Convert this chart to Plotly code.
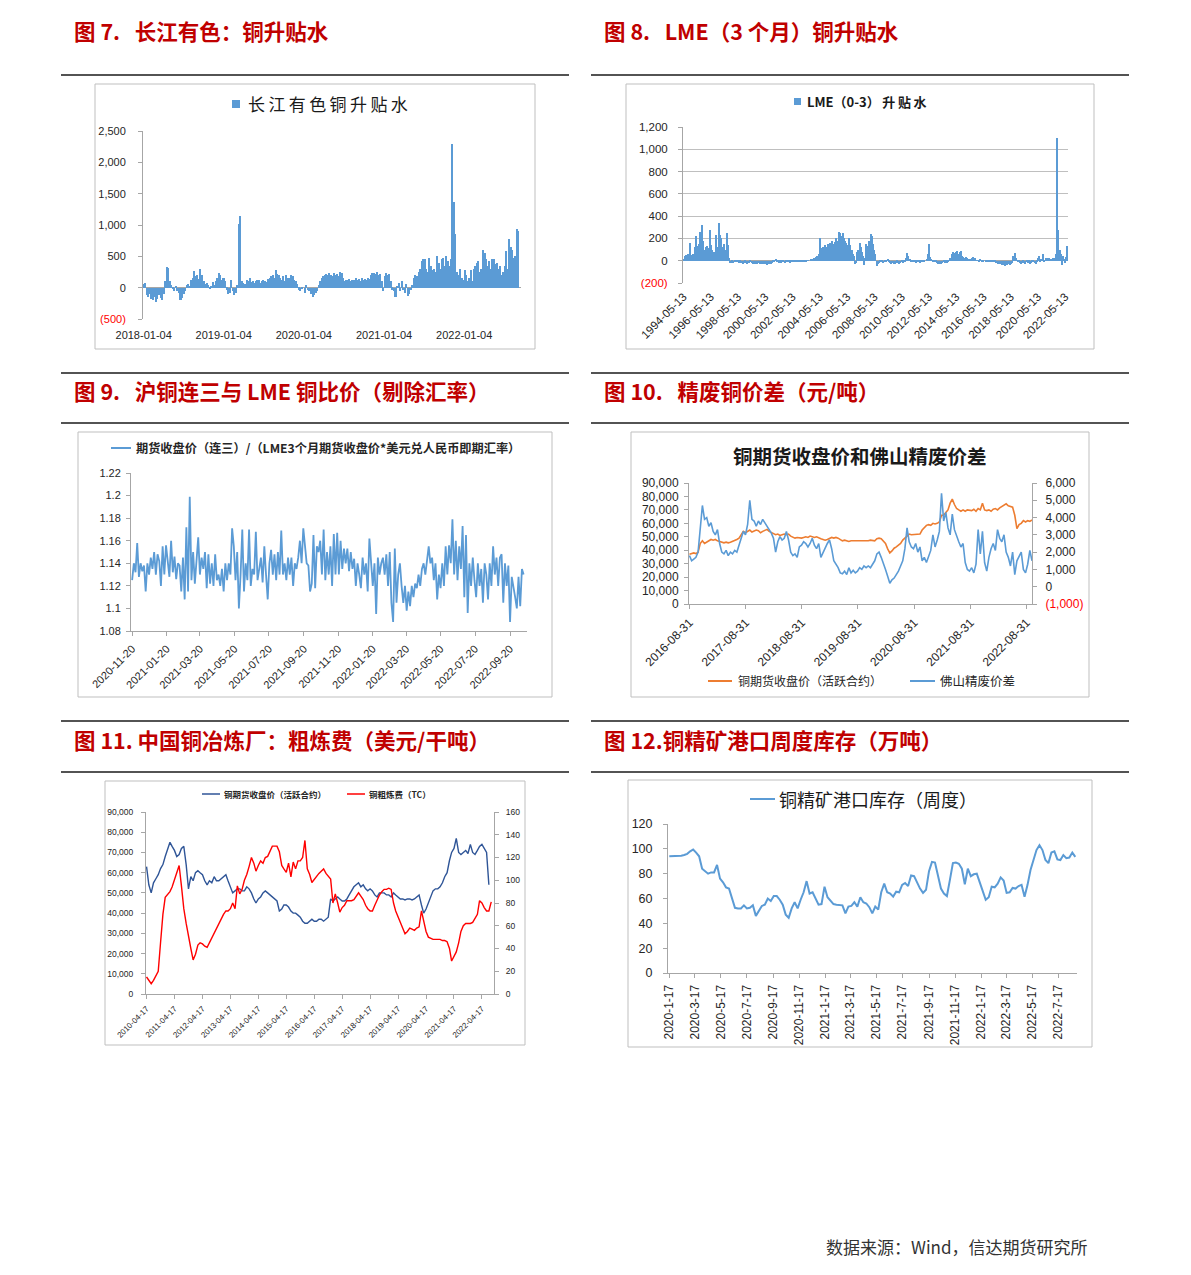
import pandas as pd
import plotly.graph_objects as go

W, H = 1191, 1275
def px(x): return x / W
def py(y): return 1 - y / H

# ---------------- DATA ----------------
# 图7 长江有色铜升贴水 (weekly, from 2018-01-05)
p1_2018 = [60, 80, -120, -150, -100, -180, -200, -150, -230, -180, -120, -160, -200, -100, 100, 330, 310, 100, 40, -20, -50, 30, -60, -80, -190, -160, -100, -60, 50, 60, 20, 120, 150, 260, 180, 200, 140, 290, 200, 100, 60, 80, 50, -20, 30, 90, 40, 100, 150, 230, 200, 120]
p1_2019 = [150, 100, -30, -100, -80, 130, -60, -120, -90, 50, 1020, 1150, 100, 80, 60, 120, 100, 150, 90, 110, 80, 100, 130, 120, 80, 100, 130, 110, 90, 140, 150, 180, 200, 160, 280, 220, 200, 150, 120, 180, 100, 200, 160, 150, 200, 190, 130, 100, 60, -30, -60, -20]
p1_2020 = [0, -80, 50, -40, -60, -100, -150, -120, -80, -50, 50, 100, 150, 180, 200, 220, 200, 240, 210, 180, 230, 200, 220, 190, 250, 240, 150, 100, 130, 120, 140, 110, 130, 120, 150, 130, 140, 110, 150, 120, 140, 130, 160, 140, 200, 240, 230, 220, 250, 200, 220, 100]
p1_2021 = [-50, 180, 240, 200, 220, 100, -30, -50, -150, 30, 80, -60, 100, -40, -80, 60, -130, -100, -40, 50, 150, 200, 180, 250, 300, 430, 450, 460, 300, 250, 480, 350, 280, 300, 250, 500, 400, 300, 450, 480, 350, 500, 420, 350, 450, 2300, 1370, 850, 250, 200, 300, 150]
p1_2022 = [120, 280, 200, 100, 150, 280, 100, 300, 350, 400, 420, 250, 300, 600, 550, 450, 350, 420, 300, 460, 450, 380, 400, 300, 350, 200, 250, 350, 580, 300, 770, 650, 600, 480, 500, 940, 900]
p1_vals = p1_2018 + p1_2019 + p1_2020 + p1_2021 + p1_2022
p1_ticks = ['2018-01-04', '2019-01-04', '2020-01-04', '2021-01-04', '2022-01-04']

# 图8 LME (0-3) 升贴水 (monthly, from 1994-05)
p2_vals = (
    [10, 40, 50, 30, 60, 50, 160, 50, 60, 40, 120, 220]
    + [130, 80, 150, 260, 320, 180, 100, 80, 120, 130, 110, 280]
    + [140, 100, 60, 80, 70, 230, 120, 335, 230, 200, 120, 80]
    + [150, 100, 250, 140, 20, -20, -20, -15, -20, -15, -10, -10]
    + [-15, -20, -15, -20, -25, -20, -15, -20, -25, -20, -20, -15]
    + [-20, -25, -20, -25, -30, -25, -20, -30, -25, -20, -25, -30]
    + [-25, -30, -35, -30, -30, -25, -20, -15, -10, 10, -5, -15]
    + [-20, -15, -20, -15, -10, -20, -15, -10, -15, -10, -20, -15]
    + [-15, -10, -15, -10, -15, -10, -5, -10, -5, -10, -5, 0]
    + [-5, 0, 5, 0, 10, 5, 15, 20, 10, 30, 40, 60]
    + [200, 110, 80, 120, 100, 140, 120, 150, 130, 160, 140, 180]
    + [150, 170, 200, 160, 180, 260, 250, 220, 250, 200, 180, 160]
    + [140, 50, 200, 140, 100, 60, 40, -30, -20, 80, 100, 160]
    + [120, 80, 40, -40, 20, 150, 130, 180, 170, 240, 220, 150]
    + [100, 60, -50, -30, -20, -10, 0, -10, -20, -15, -10, 0]
    + [10, -10, -20, -30, -20, -25, -30, -20, -15, -20, -25, -20]
    + [-15, -20, -10, -5, 20, 70, 40, 10, -5, -10, -15, -10]
    + [-15, -20, -10, -15, -20, -10, -15, -10, -5, 0, 10, 60]
    + [150, 30, 10, 0, -10, -15, -10, -20, -25, -20, -30, -25]
    + [-20, -15, -20, -10, -20, -5, 0, 20, 60, 75, 40, 70]
    + [80, 90, 60, 80, 90, 40, 30, 20, 10, 30, 20, 10]
    + [0, 10, 20, 30, 10, 25, 5, 0, -5, 10, 0, -10]
    + [-5, 0, -10, -5, 0, -10, -15, -10, -5, -10, -15, -20]
    + [-20, -25, -30, -25, -35, -30, -40, -45, -35, -40, -30, -35]
    + [-30, -20, 40, 30, 70, 20, -10, -15, -20, -25, -20, -15]
    + [-20, -25, -15, -20, -10, -25, -20, -15, -10, -20, -30, -10]
    + [20, 40, -10, 10, 60, -5, 0, 20, 10, 25, 20, 15]
    + [10, 20, 25, 20, 60, 1100, 280, 100, 60, -40, 40, 10]
    + [-20, 30, 130]
)
p2_ticks = ['1994-05-13', '1996-05-13', '1998-05-13', '2000-05-13', '2002-05-13', '2004-05-13', '2006-05-13',
            '2008-05-13', '2010-05-13', '2012-05-13', '2014-05-13', '2016-05-13', '2018-05-13', '2020-05-13', '2022-05-13']

# 图9 沪铜连三/LME 比价 (every 3 days from 2020-11-20)
p3_vals = (
    [1.125, 1.14, 1.132, 1.158, 1.128, 1.14, 1.133, 1.138, 1.115, 1.14, 1.13, 1.145, 1.135, 1.15, 1.13, 1.148, 1.142, 1.12, 1.155, 1.13]
    + [1.156, 1.14, 1.128, 1.16, 1.132, 1.146, 1.126, 1.14, 1.138, 1.115, 1.145, 1.108, 1.172, 1.115, 1.199, 1.125, 1.15, 1.122, 1.145, 1.163]
    + [1.13, 1.145, 1.135, 1.15, 1.118, 1.148, 1.122, 1.14, 1.12, 1.148, 1.125, 1.13, 1.12, 1.135, 1.115, 1.14, 1.125, 1.14, 1.13, 1.171]
    + [1.155, 1.125, 1.15, 1.1, 1.13, 1.17, 1.115, 1.14, 1.125, 1.17, 1.12, 1.135, 1.13, 1.168, 1.125, 1.135, 1.145, 1.123, 1.155, 1.13]
    + [1.108, 1.14, 1.152, 1.13, 1.148, 1.125, 1.15, 1.13, 1.169, 1.13, 1.14, 1.125, 1.145, 1.13, 1.145, 1.12, 1.14, 1.135, 1.145, 1.16]
    + [1.14, 1.171, 1.155, 1.14, 1.138, 1.115, 1.122, 1.165, 1.118, 1.155, 1.15, 1.16, 1.13, 1.17, 1.125, 1.15, 1.13, 1.155, 1.12, 1.166]
    + [1.13, 1.167, 1.13, 1.16, 1.135, 1.153, 1.14, 1.153, 1.133, 1.15, 1.135, 1.144, 1.12, 1.14, 1.13, 1.118, 1.145, 1.13, 1.14, 1.115]
    + [1.162, 1.14, 1.12, 1.14, 1.095, 1.145, 1.13, 1.14, 1.145, 1.13, 1.148, 1.12, 1.15, 1.105, 1.088, 1.153, 1.105, 1.13, 1.14, 1.12]
    + [1.105, 1.12, 1.098, 1.115, 1.102, 1.12, 1.11, 1.122, 1.118, 1.13, 1.12, 1.135, 1.14, 1.13, 1.145, 1.155, 1.14, 1.145, 1.125, 1.14]
    + [1.108, 1.13, 1.118, 1.14, 1.12, 1.155, 1.13, 1.156, 1.14, 1.179, 1.13, 1.16, 1.125, 1.155, 1.135, 1.173, 1.11, 1.165, 1.096, 1.14]
    + [1.12, 1.145, 1.125, 1.11, 1.14, 1.12, 1.135, 1.105, 1.14, 1.13, 1.108, 1.14, 1.12, 1.155, 1.13, 1.145, 1.12, 1.145, 1.148, 1.105]
    + [1.14, 1.12, 1.138, 1.088, 1.128, 1.12, 1.11, 1.1, 1.128, 1.102, 1.135, 1.13]
)
p3_ticks = ['2020-11-20', '2021-01-20', '2021-03-20', '2021-05-20', '2021-07-20', '2021-09-20',
            '2021-11-20', '2022-01-20', '2022-03-20', '2022-05-20', '2022-07-20', '2022-09-20']

# 图10 铜期货收盘价 (left) & 佛山精废价差 (right), every 14 days from 2016-08-31
p4_price = (
    [37000, 37500, 38000, 37500, 38500, 45000, 47000, 45000, 46000, 47000, 48000, 47500, 48000, 47000, 46500, 46000, 45500, 46000, 45500, 46000, 46500, 47000, 48000, 49000, 52000, 54000]
    + [53000, 54000, 55000, 53500, 54000, 55000, 54500, 53000, 54000, 55000, 55500, 54000, 53000, 52000, 51500, 52000, 51000, 51500, 52000, 51500, 52000, 50500, 50000, 49000, 49500, 49000]
    + [49000, 49500, 50000, 49500, 50500, 50000, 49500, 50000, 49000, 48500, 48000, 47500, 48000, 48500, 49500, 49000, 49500, 49000, 48000, 47000, 47500, 47000, 46500, 47000, 47000, 46500]
    + [47000, 46500, 47000, 47000, 46500, 47000, 47500, 47000, 47000, 48500, 49000, 48500, 47000, 45000, 41000, 38000, 39500, 41500, 42500, 43500, 45000, 47500, 49000, 51000, 52000, 51500]
    + [51500, 52000, 51500, 52000, 55000, 57000, 58500, 59000, 58500, 60000, 59500, 60000, 61000, 66000, 66000, 68000, 70000, 75000, 78000, 74000, 71000, 70000, 69000, 70000, 69000, 70000]
    + [70000, 69500, 70500, 69000, 71000, 70000, 75000, 70000, 69500, 70000, 69000, 70500, 71000, 70000, 71500, 72500, 74000, 74500, 73000, 72500, 72000, 66000, 56000, 59000, 60000, 62000]
    + [61000, 62000, 61500, 62500]
)
p4_spread = (
    [1800, 1500, 1600, 1700, 2000, 3500, 4700, 3900, 4000, 3500, 3700, 3200, 3000, 3300, 2500, 2000, 1900, 2100, 1800, 2000, 1900, 2100, 2000, 2400, 2800, 3200]
    + [3000, 3600, 5000, 3900, 3800, 3500, 3800, 3600, 3900, 3700, 3500, 3300, 3100, 2800, 2000, 2600, 2900, 2700, 2800, 3200, 2700, 2000, 1800, 1900, 1700, 2300]
    + [2400, 2600, 2500, 2300, 2500, 2800, 2400, 2200, 2500, 1700, 2000, 2300, 2500, 2700, 2200, 1500, 1300, 1100, 800, 750, 900, 700, 1100, 800, 950, 800]
    + [900, 1100, 1000, 1200, 1100, 1200, 1100, 1300, 1500, 1900, 2000, 1700, 1400, 1000, 600, 200, 400, 500, 700, 900, 1200, 1500, 2200, 3400, 2600, 2300]
    + [2200, 2500, 2000, 2300, 1500, 1700, 1400, 1800, 2100, 3000, 2300, 2700, 3200, 5400, 3800, 4300, 3400, 3000, 4200, 3300, 2900, 2600, 2300, 2500, 1400, 1000]
    + [900, 1100, 800, 1300, 3300, 1900, 3200, 1400, 900, 1700, 2200, 2500, 2100, 3300, 2800, 2600, 3000, 2000, 1700, 1200, 2000, 700, 1500, 1800, 2000, 1000]
    + [800, 1300, 2100, 1500]
)
p4_ticks = ['2016-08-31', '2017-08-31', '2018-08-31', '2019-08-31', '2020-08-31', '2021-08-31', '2022-08-31']

# 图11 铜期货收盘价 (left) & 铜粗炼费 TC (right), monthly from 2010-04
p5_price = (
    [63000, 54000, 50000, 55000, 57000, 59000, 62000, 64000, 68000, 72000, 75000, 73000]
    + [71000, 68000, 69000, 72000, 73000, 64000, 52000, 58000, 56000, 60000, 61000, 60000]
    + [59000, 56000, 54000, 56000, 55000, 58000, 56000, 56000, 57000, 58000, 59000, 56000]
    + [53000, 50000, 51000, 52000, 52000, 51000, 51000, 53000, 52000, 50000, 47000, 45000]
    + [47000, 48000, 50000, 51000, 50000, 49000, 48000, 47000, 46000, 41000, 42000, 44000]
    + [44000, 43000, 41000, 40000, 40000, 39000, 38000, 36000, 35000, 35000, 36000, 37000]
    + [36000, 36000, 37000, 37000, 36000, 37000, 38000, 47000, 46000, 47000, 48000, 47000]
    + [46000, 46000, 47000, 49000, 51000, 53000, 54000, 55000, 53000, 54000, 52000, 51000]
    + [52000, 51000, 49000, 48000, 50000, 50000, 50000, 49000, 49000, 48000, 50000, 49000]
    + [48000, 47000, 47000, 46500, 47000, 47000, 46500, 47000, 48000, 49000, 44000, 40000]
    + [42000, 45000, 48000, 51000, 52000, 52000, 53000, 55000, 58000, 60000, 66000, 70000]
    + [72000, 77000, 70000, 69000, 70000, 71000, 69500, 74000, 70000, 69000, 71000, 73000]
    + [74000, 72000, 70000, 54000]
)
p5_tc = (
    [15, 12, 9, 12, 16, 20, 45, 70, 85, 88, 90, 94]
    + [100, 107, 113, 95, 75, 62, 50, 40, 30, 35, 43, 45]
    + [44, 42, 41, 45, 50, 54, 58, 62, 66, 70, 73, 73]
    + [75, 80, 75, 95, 88, 92, 100, 105, 112, 120, 115, 108]
    + [113, 117, 115, 120, 121, 125, 130, 130, 130, 125, 113, 110]
    + [107, 115, 103, 116, 110, 117, 117, 120, 135, 110, 105, 98]
    + [101, 103, 106, 108, 110, 106, 103, 101, 80, 88, 80, 72]
    + [76, 78, 82, 82, 82, 83, 86, 89, 86, 83, 78, 75]
    + [73, 73, 78, 83, 87, 90, 92, 92, 93, 92, 80, 73]
    + [68, 63, 58, 53, 55, 58, 57, 56, 58, 59, 73, 65]
    + [55, 50, 49, 48, 48, 48, 48, 47, 47, 46, 40, 29]
    + [33, 37, 45, 55, 60, 62, 62, 62, 63, 66, 70, 82]
    + [80, 76, 73, 73, 81]
)
p5_ticks = ['2010-04-17', '2011-04-17', '2012-04-17', '2013-04-17', '2014-04-17', '2015-04-17', '2016-04-17',
            '2017-04-17', '2018-04-17', '2019-04-17', '2020-04-17', '2021-04-17', '2022-04-17']

# 图12 铜精矿港口库存 (weekly from 2020-01-17, 万吨)
p6_vals = [94, 94, 94.2, 94.5, 94.5, 95, 96, 98, 99.5, 97,
           94, 84, 82, 80, 81, 81, 87, 76, 73, 69,
           68, 60, 52.5, 52, 52, 54.5, 52, 52.5, 54.5, 46,
           50, 54, 55, 60, 58, 62, 62, 59, 55, 47,
           44.5, 52, 57, 52, 59, 65, 74, 64, 65, 60,
           55, 55.5, 69.5, 61, 58, 55.5, 55, 55, 54.5, 48,
           53.5, 54, 57, 53.5, 61, 57, 56, 53, 48, 53.5,
           51, 65, 72, 65, 64, 61.5, 65.5, 65, 71, 72.5,
           70, 78.5, 78, 73, 68, 64.5, 67, 82, 89.5, 89,
           77, 68, 64, 62, 75, 88.5, 89, 88, 84, 71.5,
           84, 78, 79.5, 80, 73, 66, 59, 61, 69.5, 69,
           72, 77, 74.5, 64.5, 65, 68.5, 68, 70, 71,
           61.5, 71, 83, 92, 99, 103, 99, 91, 88.5, 97,
           98, 91.5, 91, 95, 92.5, 93, 97, 93.5]
p6_tickvals = ['2020-01-17', '2020-03-17', '2020-05-17', '2020-07-17', '2020-09-17', '2020-11-17', '2021-01-17', '2021-03-17',
               '2021-05-17', '2021-07-17', '2021-09-17', '2021-11-17', '2022-01-17', '2022-03-17', '2022-05-17', '2022-07-17']
p6_ticktext = ['2020-1-17', '2020-3-17', '2020-5-17', '2020-7-17', '2020-9-17', '2020-11-17', '2021-1-17', '2021-3-17',
               '2021-5-17', '2021-7-17', '2021-9-17', '2021-11-17', '2022-1-17', '2022-3-17', '2022-5-17', '2022-7-17']

# ---------------- dates ----------------
def dstr(idx):
    return list(idx.strftime('%Y-%m-%d'))

p1_dates = dstr(pd.date_range('2018-01-05', periods=len(p1_vals), freq='7D'))
p2_dates = dstr(pd.date_range('1994-05-13', periods=len(p2_vals), freq=pd.DateOffset(months=1)))
p3_dates = dstr(pd.date_range('2020-11-20', periods=len(p3_vals), freq='3D'))
p4_dates = dstr(pd.date_range('2016-08-31', periods=len(p4_price), freq='14D'))
p5_pdates = dstr(pd.date_range('2010-04-17', periods=len(p5_price), freq=pd.DateOffset(months=1)))
p5_tdates = dstr(pd.date_range('2010-04-17', periods=len(p5_tc), freq=pd.DateOffset(months=1)))
p6_dates = dstr(pd.date_range('2020-01-17', periods=len(p6_vals), freq='7D'))

# ---------------- styles ----------------
BLUE = '#5B9BD5'
ORANGE = '#ED7D31'
NAVY = '#2F5597'
RED = '#FF0000'
TITLE_RED = '#C00000'
AX = '#A6A6A6'
TXT = '#262626'
NUM = 'Liberation Sans, Arial, sans-serif'
CJK = 'Noto Sans CJK SC, sans-serif'
DAY = 86400000

def red(s):
    return '<span style="color:#FF0000">' + s + '</span>'

fig = go.Figure()
fig.add_trace(go.Bar(x=p1_dates, y=p1_vals, width=7 * DAY, marker=dict(color=BLUE, line=dict(width=0)),
                     xaxis='x', yaxis='y'))
fig.add_trace(go.Bar(x=p2_dates, y=p2_vals, width=31 * DAY, marker=dict(color=BLUE, line=dict(width=0)),
                     xaxis='x2', yaxis='y2'))
fig.add_trace(go.Scatter(x=p3_dates, y=p3_vals, mode='lines', line=dict(color=BLUE, width=1.8),
                         xaxis='x3', yaxis='y3'))
fig.add_trace(go.Scatter(x=p4_dates, y=p4_price, mode='lines', line=dict(color=ORANGE, width=1.6),
                         xaxis='x4', yaxis='y4'))
fig.add_trace(go.Scatter(x=p4_dates, y=p4_spread, mode='lines', line=dict(color=BLUE, width=1.6),
                         xaxis='x4', yaxis='y5'))
fig.add_trace(go.Scatter(x=p5_pdates, y=p5_price, mode='lines', line=dict(color=NAVY, width=1.4),
                         xaxis='x5', yaxis='y6'))
fig.add_trace(go.Scatter(x=p5_tdates, y=p5_tc, mode='lines', line=dict(color=RED, width=1.4),
                         xaxis='x5', yaxis='y7'))
fig.add_trace(go.Scatter(x=p6_dates, y=p6_vals, mode='lines', line=dict(color=BLUE, width=2),
                         xaxis='x6', yaxis='y8'))


def xax(x0, x1, anchor, rng, tv, tt, angle, size, line=True, standoff=3):
    return dict(domain=[px(x0), px(x1)], anchor=anchor, type='date', range=rng,
                tickmode='array', tickvals=tv, ticktext=tt, tickangle=angle,
                tickfont=dict(family=NUM, size=size, color=TXT),
                showgrid=False, zeroline=False, showline=line, linecolor=AX, linewidth=1,
                ticks='outside' if line else '', ticklen=4, tickcolor=AX,
                ticklabelstandoff=standoff, automargin=False, fixedrange=True)


def yax(y0, y1, anchor, rng, tv, tt, size, side='left', overlaying=None, grid=False, zero=False, standoff=6):
    d = dict(domain=[py(y0), py(y1)], anchor=anchor, range=rng, side=side,
             tickmode='array', tickvals=tv, ticktext=tt,
             tickfont=dict(family=NUM, size=size, color=TXT),
             showgrid=grid, gridcolor='#BFBFBF', gridwidth=1,
             zeroline=zero, zerolinecolor=AX, zerolinewidth=1,
             showline=True, linecolor=AX, linewidth=1,
             ticks='outside', ticklen=4, tickcolor=AX,
             ticklabelstandoff=standoff, automargin=False, fixedrange=True)
    if overlaying:
        d['overlaying'] = overlaying
    return d


layout_axes = dict(
    xaxis=xax(143, 521, 'y', ['2018-01-01', '2022-09-20'], p1_ticks, p1_ticks, 0, 11, line=False, standoff=8),
    yaxis=yax(319, 131, 'x', [-500, 2500], [-500, 0, 500, 1000, 1500, 2000, 2500],
              [red('(500)'), '0', '500', '1,000', '1,500', '2,000', '2,500'], 11, zero=True, standoff=10),
    xaxis2=xax(683, 1068, 'y2', ['1994-05-01', '2022-07-25'], p2_ticks, p2_ticks, -45, 11.5, line=False, standoff=4),
    yaxis2=yax(283, 127, 'x2', [-200, 1200], [-200, 0, 200, 400, 600, 800, 1000, 1200],
               [red('(200)'), '0', '200', '400', '600', '800', '1,000', '1,200'], 11.5, grid=True, zero=True, standoff=8),
    xaxis3=xax(131, 527, 'y3', ['2020-11-18', '2022-10-20'], p3_ticks, p3_ticks, -45, 11, standoff=2),
    yaxis3=yax(631, 473, 'x3', [1.08, 1.22], [1.08, 1.1, 1.12, 1.14, 1.16, 1.18, 1.2, 1.22],
               ['1.08', '1.1', '1.12', '1.14', '1.16', '1.18', '1.2', '1.22'], 11, standoff=3),
    xaxis4=xax(689, 1032, 'y4', ['2016-08-28', '2022-10-05'], p4_ticks, p4_ticks, -45, 12, standoff=2),
    yaxis4=yax(604, 483, 'x4', [0, 90000], [0, 10000, 20000, 30000, 40000, 50000, 60000, 70000, 80000, 90000],
               ['0', '10,000', '20,000', '30,000', '40,000', '50,000', '60,000', '70,000', '80,000', '90,000'], 12, standoff=3),
    yaxis5=yax(604, 483, 'x4', [-1000, 6000], [-1000, 0, 1000, 2000, 3000, 4000, 5000, 6000],
               [red('(1,000)'), '0', '1,000', '2,000', '3,000', '4,000', '5,000', '6,000'], 12,
               side='right', overlaying='y4', standoff=6),
    xaxis5=xax(146, 494, 'y6', ['2010-04-10', '2022-09-22'], p5_ticks, p5_ticks, -45, 8, standoff=2),
    yaxis6=yax(994, 812, 'x5', [0, 90000], [0, 10000, 20000, 30000, 40000, 50000, 60000, 70000, 80000, 90000],
               ['0', '10,000', '20,000', '30,000', '40,000', '50,000', '60,000', '70,000', '80,000', '90,000'], 8.5, standoff=6),
    yaxis7=yax(994, 812, 'x5', [0, 160], [0, 20, 40, 60, 80, 100, 120, 140, 160],
               ['0', '20', '40', '60', '80', '100', '120', '140', '160'], 8.5, side='right', overlaying='y6', standoff=5),
    xaxis6=xax(668, 1077, 'y8', ['2020-01-14', '2022-08-30'], p6_tickvals, p6_ticktext, -90, 12, standoff=2),
    yaxis8=yax(973, 824, 'x6', [0, 120], [0, 20, 40, 60, 80, 100, 120],
               ['0', '20', '40', '60', '80', '100', '120'], 12.5, standoff=8),
)

shapes = []
# horizontal rules
for y in [75, 373, 423, 721, 772]:
    shapes.append(dict(type='line', xref='paper', yref='paper', x0=px(61), x1=px(569), y0=py(y), y1=py(y),
                       line=dict(color='#1A1A1A', width=1.5)))
    shapes.append(dict(type='line', xref='paper', yref='paper', x0=px(591), x1=px(1129), y0=py(y), y1=py(y),
                       line=dict(color='#1A1A1A', width=1.5)))
# chart frames
for (x0, y0, x1, y1) in [(95, 84, 535, 349), (626, 84, 1094, 349), (78, 432, 552, 697),
                         (631, 432, 1089, 697), (105, 781, 525, 1045), (628, 780, 1092, 1047)]:
    shapes.append(dict(type='rect', xref='paper', yref='paper', x0=px(x0), x1=px(x1), y0=py(y1), y1=py(y0),
                       line=dict(color='#BFBFBF', width=1), fillcolor='rgba(0,0,0,0)'))
# legend markers
shapes.append(dict(type='rect', xref='paper', yref='paper', x0=px(232), x1=px(240), y0=py(108), y1=py(100),
                   line=dict(width=0), fillcolor=BLUE))
shapes.append(dict(type='rect', xref='paper', yref='paper', x0=px(794), x1=px(801), y0=py(105), y1=py(98),
                   line=dict(width=0), fillcolor=BLUE))
def legline(x0, x1, y, color, w=2):
    shapes.append(dict(type='line', xref='paper', yref='paper', x0=px(x0), x1=px(x1), y0=py(y), y1=py(y),
                       line=dict(color=color, width=w)))
legline(111, 131, 448, BLUE)
legline(708, 732, 681, ORANGE)
legline(910, 935, 681, BLUE)
legline(202, 220, 794, NAVY, 1.5)
legline(347, 365, 794, RED, 1.5)
legline(750, 775, 799, BLUE)

ann = []
def text(x, y, s, size, color='#000000', anchor='left', family=CJK):
    ann.append(dict(x=px(x), y=py(y), xref='paper', yref='paper', text=s, showarrow=False,
                    xanchor=anchor, yanchor='middle', font=dict(family=family, size=size, color=color)))

NB = '\u00a0'
TSZ = 21.5
text(72, 30, '<b>图' + NB + '7.' + NB + NB + NB + '长江有色：铜升贴水</b>', TSZ, TITLE_RED)
text(602, 30, '<b>图' + NB + '8.' + NB + NB + NB + 'LME（3' + NB + '个月）铜升贴水</b>', TSZ, TITLE_RED)
text(72, 390, '<b>图' + NB + '9.' + NB + NB + NB + '沪铜连三与' + NB + 'LME' + NB + '铜比价（剔除汇率）</b>', TSZ, TITLE_RED)
text(602, 390, '<b>图' + NB + '10.' + NB + NB + NB + '精废铜价差（元/吨）</b>', TSZ, TITLE_RED)
text(72, 739, '<b>图' + NB + '11.' + NB + '中国铜冶炼厂：粗炼费（美元/干吨）</b>', TSZ, TITLE_RED)
text(602, 739, '<b>图' + NB + '12.铜精矿港口周度库存（万吨）</b>', TSZ, TITLE_RED)

TS = '\u2009'
text(246, 104, TS.join('长江有色铜升贴水'), 17, '#1A1A1A')
text(805, 101, '<b>LME（0-3）' + TS + '升' + TS + '贴' + TS + '水</b>', 13, '#1A1A1A')
text(134, 448, '<b>期货收盘价（连三）/（LME3个月期货收盘价*美元兑人民币即期汇率）</b>', 12.2, '#262626')
text(860, 455, '<b>铜期货收盘价和佛山精废价差</b>', 19.5, '#1A1A1A', anchor='center')
text(736, 681, '铜期货收盘价（活跃合约）', 12, '#262626')
text(938, 681, '佛山精废价差', 12.5, '#262626')
text(222, 794, '<b>铜期货收盘价（活跃合约）</b>', 8.5, '#262626')
text(367, 794, '<b>铜粗炼费（TC）</b>', 8.5, '#262626')
text(777, 799, '铜精矿港口库存（周度）', 18, '#1A1A1A')
text(1090, 1246, '数据来源：Wind，信达期货研究所', 17, '#333333', anchor='right')

fig.update_layout(
    width=W, height=H, autosize=False,
    margin=dict(l=0, r=0, t=0, b=0, pad=0),
    paper_bgcolor='white', plot_bgcolor='rgba(0,0,0,0)',
    showlegend=False, bargap=0, barmode='overlay',
    shapes=shapes, annotations=ann,
    **layout_axes,
)

fig.write_html("out.html", config={'displayModeBar': False},
               post_script="document.body.style.margin='0';document.body.style.overflow='hidden';")
